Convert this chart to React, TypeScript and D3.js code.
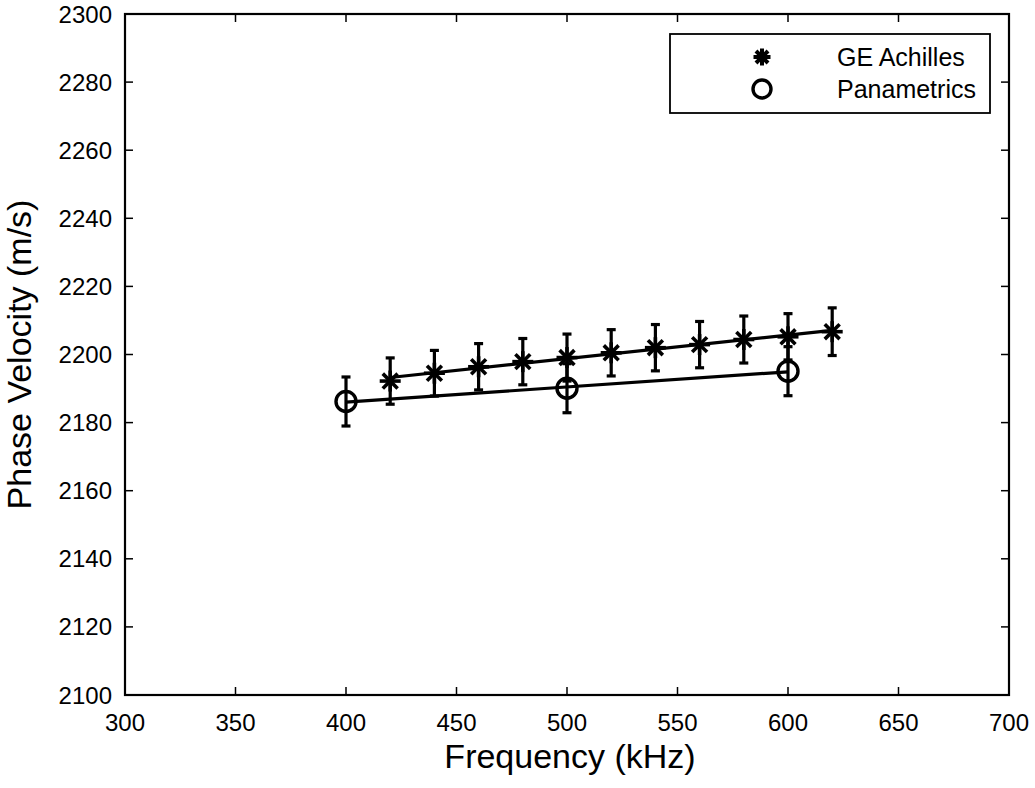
import React from "react";
import * as d3 from "d3";

const geFreq = [420, 440, 460, 480, 500, 520, 540, 560, 580, 600, 620];
const geVel = [2192.2, 2194.5, 2196.4, 2197.9, 2199.1, 2200.5, 2202.0, 2202.9, 2204.4, 2205.2, 2206.7];
const geErr = [6.8, 6.7, 6.8, 6.8, 6.9, 6.8, 6.8, 6.8, 6.9, 6.8, 7.0];

const panFreq = [400, 500, 600];
const panVel = [2186.2, 2190.1, 2195.1];
const panErr = [7.2, 7.2, 7.2];

const xTicks = [300, 350, 400, 450, 500, 550, 600, 650, 700];
const yTicks = [2100, 2120, 2140, 2160, 2180, 2200, 2220, 2240, 2260, 2280, 2300];

const legendLabels = ["GE Achilles", "Panametrics"];

function fit(xs: number[], ys: number[]) {
  const mx = d3.mean(xs)!;
  const my = d3.mean(ys)!;
  let num = 0, den = 0;
  xs.forEach((x, i) => { num += (x - mx) * (ys[i] - my); den += (x - mx) ** 2; });
  const b = num / den;
  const a = my - b * mx;
  return (x: number) => a + b * x;
}

const Star = ({ cx, cy, r, w = 3.2 }: { cx: number; cy: number; r: number; w?: number }) => {
  const d = r * 0.7071;
  return (
    <g stroke="#000" strokeWidth={w} strokeLinecap="butt">
      <line x1={cx - r} y1={cy} x2={cx + r} y2={cy} />
      <line x1={cx} y1={cy - r} x2={cx} y2={cy + r} />
      <line x1={cx - d} y1={cy - d} x2={cx + d} y2={cy + d} />
      <line x1={cx - d} y1={cy + d} x2={cx + d} y2={cy - d} />
    </g>
  );
};

export default function App() {
  const W = 1035, H = 788;
  const L = 125, R = 1009, T = 14, B = 695;
  const x = d3.scaleLinear().domain([300, 700]).range([L, R]);
  const y = d3.scaleLinear().domain([2100, 2300]).range([B, T]);
  const font = "'Liberation Sans', Arial, sans-serif";
  const tickLen = 8;
  const geFit = fit(geFreq, geVel);
  const panFit = fit(panFreq, panVel);
  const cap = 4.5;

  const errBar = (fx: number, v: number, e: number, key: string) => (
    <g key={key} stroke="#000" strokeWidth={3.2}>
      <line x1={x(fx)} x2={x(fx)} y1={y(v - e)} y2={y(v + e)} />
      <line x1={x(fx) - cap} x2={x(fx) + cap} y1={y(v - e)} y2={y(v - e)} />
      <line x1={x(fx) - cap} x2={x(fx) + cap} y1={y(v + e)} y2={y(v + e)} />
    </g>
  );

  return (
    <svg width={W} height={H} style={{ position: "absolute", left: 0, top: 0 }}>
      <rect width={W} height={H} fill="#fff" />
      {xTicks.map((t) => (
        <g key={"xt" + t} stroke="#000" strokeWidth={1.5}>
          <line x1={x(t)} x2={x(t)} y1={B} y2={B - tickLen} />
          <line x1={x(t)} x2={x(t)} y1={T} y2={T + tickLen} />
        </g>
      ))}
      {yTicks.map((t) => (
        <g key={"yt" + t} stroke="#000" strokeWidth={1.5}>
          <line x1={L} x2={L + tickLen} y1={y(t)} y2={y(t)} />
          <line x1={R} x2={R - tickLen} y1={y(t)} y2={y(t)} />
        </g>
      ))}
      <rect x={L} y={T} width={R - L} height={B - T} fill="none" stroke="#000" strokeWidth={2.2} />
      {xTicks.map((t) => (
        <text key={"xl" + t} x={x(t)} y={B + 36} textAnchor="middle" fontFamily={font} fontSize={24} fill="#000">{t}</text>
      ))}
      {yTicks.map((t) => (
        <text key={"yl" + t} x={L - 13} y={y(t) + 8.5} textAnchor="end" fontFamily={font} fontSize={24} fill="#000">{t}</text>
      ))}
      <text x={(L + R) / 2 + 3} y={768} textAnchor="middle" fontFamily={font} fontSize={34} fill="#000">Frequency (kHz)</text>
      <text transform={`translate(31,${(T + B) / 2}) rotate(-90)`} textAnchor="middle" fontFamily={font} fontSize={34} fill="#000">Phase Velocity (m/s)</text>

      <line x1={x(geFreq[0])} y1={y(geFit(geFreq[0]))} x2={x(geFreq[geFreq.length - 1])} y2={y(geFit(geFreq[geFreq.length - 1]))} stroke="#000" strokeWidth={3.2} />
      <line x1={x(panFreq[0])} y1={y(panFit(panFreq[0]))} x2={x(panFreq[panFreq.length - 1])} y2={y(panFit(panFreq[panFreq.length - 1]))} stroke="#000" strokeWidth={3.2} />

      {geFreq.map((f, i) => errBar(f, geVel[i], geErr[i], "ge" + i))}
      {panFreq.map((f, i) => errBar(f, panVel[i], panErr[i], "pa" + i))}
      {geFreq.map((f, i) => <Star key={"s" + i} cx={x(f)} cy={y(geVel[i])} r={10.5} w={3.6} />)}
      {panFreq.map((f, i) => (
        <circle key={"c" + i} cx={x(f)} cy={y(panVel[i])} r={10} fill="none" stroke="#000" strokeWidth={3.4} />
      ))}

      <rect x={670} y={34} width={320} height={79} fill="#fff" stroke="#000" strokeWidth={1.8} />
      <Star cx={762} cy={57} r={8.5} w={4} />
      <circle cx={762} cy={89} r={9} fill="none" stroke="#000" strokeWidth={3.4} />
      <text x={837} y={66} fontFamily={font} fontSize={25} fill="#000">{legendLabels[0]}</text>
      <text x={837} y={98} fontFamily={font} fontSize={25} fill="#000">{legendLabels[1]}</text>
    </svg>
  );
}
